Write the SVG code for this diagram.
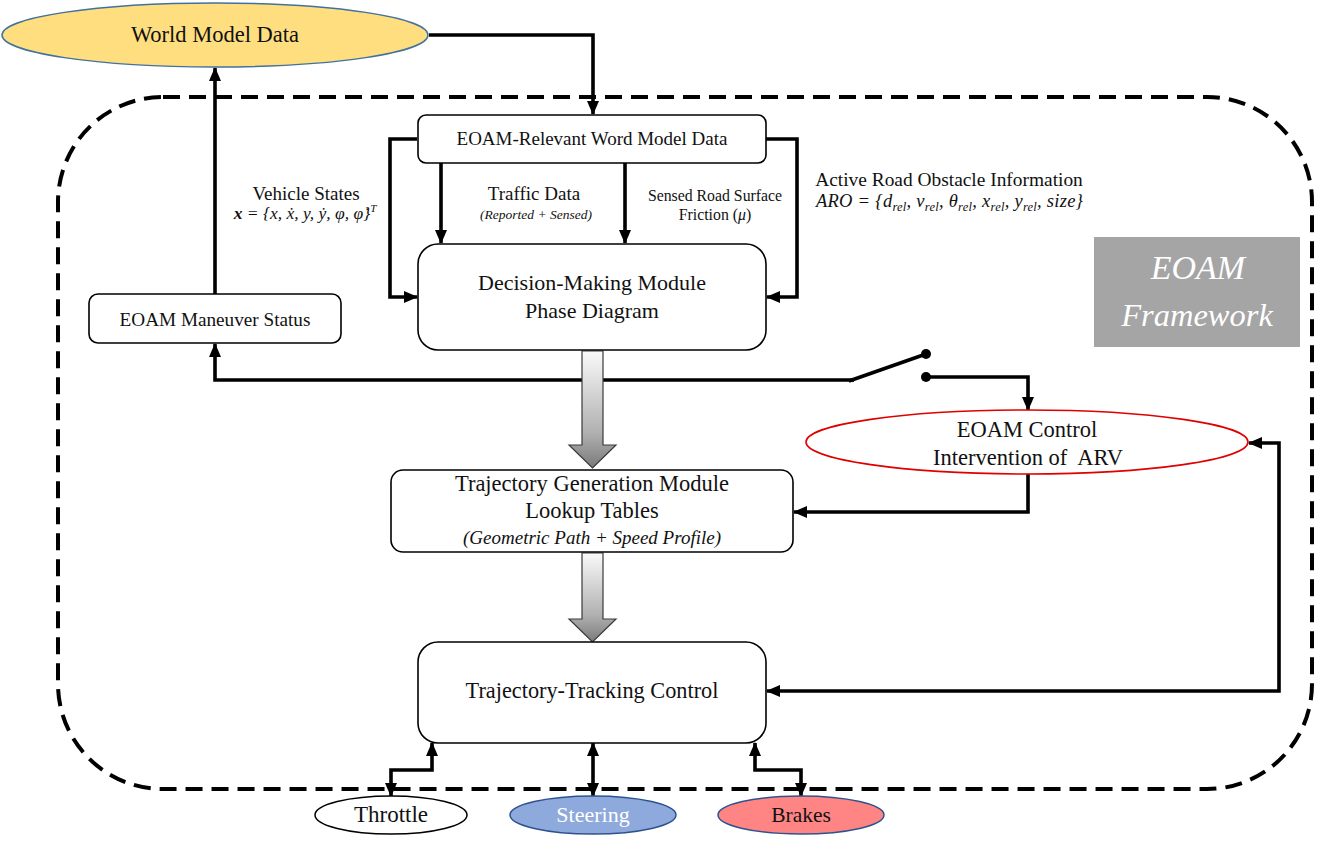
<svg xmlns="http://www.w3.org/2000/svg" width="1318" height="843" viewBox="0 0 1318 843">
<style>
text{font-family:"Liberation Serif","DejaVu Serif",serif;fill:#111;}
.box{fill:#fff;stroke:#000;stroke-width:1.6;}
.c{fill:none;stroke:#000;stroke-width:3.6;}
.blk{stroke:#3a3a3a;stroke-width:1.2;}
.mid{text-anchor:middle;}
.it{font-style:italic;}
</style>
<defs>
<marker id="ah" markerUnits="userSpaceOnUse" markerWidth="14" markerHeight="12" refX="13" refY="6" orient="auto-start-reverse">
<path d="M0,0 L14,6 L0,12 z" fill="#000"/>
</marker>
<linearGradient id="g" x1="0" y1="0" x2="0" y2="1">
<stop offset="0" stop-color="#fafafa"/>
<stop offset="0.7" stop-color="#b0b0b0"/>
<stop offset="1" stop-color="#7a7a7a"/>
</linearGradient>
</defs>
<rect id="framework-boundary" x="58" y="97" width="1254" height="692" rx="105" fill="none" stroke="#000" stroke-width="4" stroke-dasharray="17 9"/>
<g id="connectors">
<path class="c" d="M429,35 H593 V114" marker-end="url(#ah)"/>
<path class="c" d="M215,294 V68" marker-end="url(#ah)"/>
<path class="c" d="M417,139 H390 V297 H417" marker-end="url(#ah)"/>
<path class="c" d="M766,139 H797 V297 H767" marker-end="url(#ah)"/>
<path class="c" d="M441,163 V243" marker-end="url(#ah)"/>
<path class="c" d="M625,163 V243" marker-end="url(#ah)"/>
<path class="c" d="M854,380 H215 V344" marker-end="url(#ah)"/>
<path class="c" d="M849,381 L926,354"/>
<circle cx="926" cy="354" r="5" fill="#000"/>
<circle cx="926" cy="377" r="5" fill="#000"/>
<path class="c" d="M926,377 H1028 V410" marker-end="url(#ah)"/>
<path class="c" d="M1028,474 V512 H794" marker-end="url(#ah)"/>
<path class="c" d="M767,691 H1279 V443 H1249" marker-start="url(#ah)" marker-end="url(#ah)"/>
<path class="c" d="M432,743 V770 H391 V796" marker-start="url(#ah)" marker-end="url(#ah)"/>
<path class="c" d="M593,743 V796" marker-start="url(#ah)" marker-end="url(#ah)"/>
<path class="c" d="M755,743 V770 H801 V796" marker-start="url(#ah)" marker-end="url(#ah)"/>
<polygon class="blk" fill="url(#g)" points="582,351 603,351 603,445 616,445 592.5,468 569,445 582,445"/>
<polygon class="blk" fill="url(#g)" points="582,553 603,553 603,619 616,619 592.5,642 569,619 582,619"/>
</g>
<g id="world-model-data">
<ellipse cx="215" cy="35" rx="213" ry="32" fill="#FFDE80" stroke="#41719C" stroke-width="1.5"/>
<text x="215" y="42" class="mid" font-size="22.5">World Model Data</text>
</g>
<g id="eoam-relevant">
<rect class="box" x="418" y="115" width="348" height="48" rx="8"/>
<text x="592" y="145" class="mid" font-size="19">EOAM-Relevant Word Model Data</text>
</g>
<g id="vehicle-states-label">
<text x="306" y="200" class="mid" font-size="19">Vehicle States</text>
<text x="305" y="219" class="mid it" font-size="17.5"><tspan font-weight="bold">x</tspan> = {x, ẋ, y, ẏ, φ, φ̇}<tspan dy="-7" font-size="11">T</tspan></text>
</g>
<g id="traffic-data-label">
<text x="534" y="200" class="mid" font-size="19">Traffic Data</text>
<text x="536" y="219" class="mid it" font-size="13.5">(Reported + Sensed)</text>
</g>
<g id="friction-label">
<text x="715" y="201" class="mid" font-size="15.8">Sensed Road Surface</text>
<text x="715" y="220" class="mid" font-size="15.8">Friction (<tspan class="it">μ</tspan>)</text>
</g>
<g id="aro-label">
<text x="949" y="186" class="mid" font-size="19.4">Active Road Obstacle Information</text>
<text x="816" y="207" class="it" font-size="18.5" textLength="267" lengthAdjust="spacing">ARO = {d<tspan font-size="12.5" dy="4">rel</tspan><tspan dy="-4">, v</tspan><tspan font-size="12.5" dy="4">rel</tspan><tspan dy="-4">, θ</tspan><tspan font-size="12.5" dy="4">rel</tspan><tspan dy="-4">, x</tspan><tspan font-size="12.5" dy="4">rel</tspan><tspan dy="-4">, y</tspan><tspan font-size="12.5" dy="4">rel</tspan><tspan dy="-4">, size}</tspan></text>
</g>
<g id="decision-making">
<rect class="box" x="418" y="244" width="348" height="106" rx="20"/>
<text x="592" y="290" class="mid" font-size="22">Decision-Making Module</text>
<text x="592" y="318" class="mid" font-size="22">Phase Diagram</text>
</g>
<g id="maneuver-status">
<rect class="box" x="89" y="294" width="252" height="49" rx="9"/>
<text x="215" y="326" class="mid" font-size="19.2">EOAM Maneuver Status</text>
</g>
<g id="framework-label">
<rect x="1094" y="237" width="206" height="110" fill="#A5A5A5"/>
<text x="1198" y="279" class="mid it" font-size="34" style="fill:#fff">EOAM</text>
<text x="1197" y="326" class="mid it" font-size="32.5" style="fill:#fff">Framework</text>
</g>
<g id="eoam-control">
<ellipse cx="1027" cy="442" rx="221" ry="32" fill="#fff" stroke="#E00000" stroke-width="1.6"/>
<text x="1027" y="437" class="mid" font-size="22.5">EOAM Control</text>
<text x="1028" y="465" class="mid" font-size="22.5" xml:space="preserve">Intervention of  ARV</text>
</g>
<g id="trajectory-generation">
<rect class="box" x="391" y="470" width="402" height="82" rx="12"/>
<text x="592" y="491" class="mid" font-size="22.5">Trajectory Generation Module</text>
<text x="592" y="518" class="mid" font-size="22.5">Lookup Tables</text>
<text x="592" y="544" class="mid it" font-size="19">(Geometric Path + Speed Profile)</text>
</g>
<g id="trajectory-tracking">
<rect class="box" x="418" y="642" width="348" height="101" rx="20"/>
<text x="592" y="698" class="mid" font-size="22.3">Trajectory-Tracking Control</text>
</g>
<g id="throttle">
<ellipse cx="391" cy="815" rx="76" ry="19" fill="#fff" stroke="#000" stroke-width="1.5"/>
<text x="391" y="822" class="mid" font-size="23">Throttle</text>
</g>
<g id="steering">
<ellipse cx="593" cy="815" rx="83" ry="19" fill="#8EA9DB" stroke="#2F528F" stroke-width="1.5"/>
<text x="593" y="822" class="mid" font-size="22" style="fill:#fff">Steering</text>
</g>
<g id="brakes">
<ellipse cx="801" cy="815" rx="83" ry="19" fill="#FF8585" stroke="#2F528F" stroke-width="1.5"/>
<text x="801" y="822" class="mid" font-size="21.5">Brakes</text>
</g>
</svg>
